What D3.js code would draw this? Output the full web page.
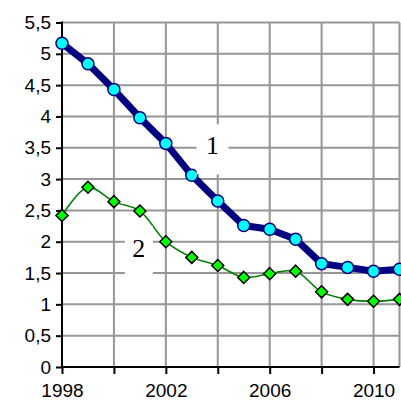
<!DOCTYPE html>
<html lang="en">
<head>
<meta charset="utf-8">
<script src="https://cdn.jsdelivr.net/npm/d3@7"></script>
<style>
  body { margin: 0; background: #fff; }
  svg { display: block; }
</style>
</head>
<body>
<script>
// data
var years = [1998, 1999, 2000, 2001, 2002, 2003, 2004, 2005, 2006, 2007, 2008, 2009, 2010, 2011];
var series1 = [5.17, 4.84, 4.43, 3.98, 3.57, 3.06, 2.65, 2.26, 2.2, 2.04, 1.65, 1.59, 1.53, 1.56];
var series2 = [2.42, 2.87, 2.64, 2.49, 2.0, 1.75, 1.62, 1.43, 1.49, 1.53, 1.2, 1.08, 1.05, 1.08];
var yTicks = [0, 0.5, 1, 1.5, 2, 2.5, 3, 3.5, 4, 4.5, 5, 5.5];
var xGrid = [2000, 2002, 2004, 2006, 2008, 2010, 2011];
var xTickMarks = [1998, 2000, 2002, 2004, 2006, 2008, 2010];
var xTickLabels = [1998, 2002, 2006, 2010];

var w = 401, h = 401;

var xScale = d3.scaleLinear().domain([1998, 2011]).range([62, 399.5]);
var yScale = d3.scaleLinear().domain([0, 5.5]).range([367, 22.5]);

var svg = d3.select("body").append("svg")
  .attr("width", w)
  .attr("height", h);

// grid
svg.selectAll("line.hgrid")
  .data(yTicks.filter(function(d) { return d > 0; }))
  .enter().append("line")
  .attr("class", "hgrid")
  .attr("x1", xScale(1998)).attr("x2", xScale(2011))
  .attr("y1", function(d) { return yScale(d); })
  .attr("y2", function(d) { return yScale(d); })
  .attr("stroke", "#969696").attr("stroke-width", 2);

svg.selectAll("line.vgrid")
  .data(xGrid)
  .enter().append("line")
  .attr("class", "vgrid")
  .attr("x1", function(d) { return xScale(d); })
  .attr("x2", function(d) { return xScale(d); })
  .attr("y1", yScale(5.5)).attr("y2", yScale(0))
  .attr("stroke", "#969696").attr("stroke-width", 2);

// axes
var yAxis = d3.axisLeft(yScale)
  .tickValues(yTicks)
  .tickSize(6)
  .tickPadding(5)
  .tickFormat(function(d) { return String(d).replace(".", ","); });

var xAxis = d3.axisBottom(xScale)
  .tickValues(xTickMarks)
  .tickSize(7)
  .tickPadding(10)
  .tickFormat(function(d) { return xTickLabels.indexOf(d) >= 0 ? d : ""; });

var gx = svg.append("g")
  .attr("transform", "translate(0," + yScale(0) + ")")
  .call(xAxis);
var gy = svg.append("g")
  .attr("transform", "translate(" + xScale(1998) + ",0)")
  .call(yAxis);

[gx, gy].forEach(function(g) {
  g.attr("font-family", null).attr("font-size", null);
  g.select(".domain").remove();
  g.selectAll(".tick line").attr("stroke", "#000").attr("stroke-width", 2);
  g.selectAll(".tick text")
    .attr("fill", "#000")
    .attr("font-family", "Liberation Sans, Arial, sans-serif")
    .attr("font-size", 19);
});

// axis lines
svg.append("line")
  .attr("x1", xScale(1998)).attr("x2", xScale(1998))
  .attr("y1", yScale(5.5) - 1).attr("y2", yScale(0) + 1)
  .attr("stroke", "#000").attr("stroke-width", 2);
svg.append("line")
  .attr("x1", xScale(1998) - 1).attr("x2", xScale(2011))
  .attr("y1", yScale(0)).attr("y2", yScale(0))
  .attr("stroke", "#000").attr("stroke-width", 2);

// series 1
var line1 = d3.line()
  .x(function(d, i) { return xScale(years[i]); })
  .y(function(d) { return yScale(d); });

svg.append("path")
  .attr("d", line1(series1))
  .attr("fill", "none")
  .attr("stroke", "#000080")
  .attr("stroke-width", 7)
  .attr("stroke-linejoin", "round");

// series 2
var line2 = d3.line()
  .x(function(d, i) { return xScale(years[i]); })
  .y(function(d) { return yScale(d); })
  .curve(d3.curveCatmullRom.alpha(0.5));

svg.append("path")
  .attr("d", line2(series2))
  .attr("fill", "none")
  .attr("stroke", "#008000")
  .attr("stroke-width", 1.6);

// markers
svg.selectAll("circle.m1")
  .data(series1)
  .enter().append("circle")
  .attr("class", "m1")
  .attr("cx", function(d, i) { return xScale(years[i]); })
  .attr("cy", function(d) { return yScale(d); })
  .attr("r", 6)
  .attr("fill", "#00ffff")
  .attr("stroke", "#000080")
  .attr("stroke-width", 1.5);

svg.selectAll("path.m2")
  .data(series2)
  .enter().append("path")
  .attr("class", "m2")
  .attr("d", "M0,-6L6,0L0,6L-6,0Z")
  .attr("transform", function(d, i) {
    return "translate(" + xScale(years[i]) + "," + yScale(d) + ")";
  })
  .attr("fill", "#00ff00")
  .attr("stroke", "#000")
  .attr("stroke-width", 1.5);

// series labels with white boxes
var labels = [
  { t: "1", x: 2003.8, y: 3.54, bw: 32, bh: 50 },
  { t: "2", x: 2000.96, y: 1.9, bw: 28, bh: 52 }
];
labels.forEach(function(l) {
  var cx = xScale(l.x), cy = yScale(l.y);
  svg.append("rect")
    .attr("x", cx - l.bw / 2).attr("y", cy - l.bh / 2 + 4)
    .attr("width", l.bw).attr("height", l.bh)
    .attr("fill", "#fff");
  svg.append("text")
    .attr("x", cx).attr("y", cy)
    .attr("dy", "0.35em")
    .attr("text-anchor", "middle")
    .attr("font-family", "Liberation Serif, Times New Roman, serif")
    .attr("font-size", 26)
    .text(l.t);
});
</script>
</body>
</html>
